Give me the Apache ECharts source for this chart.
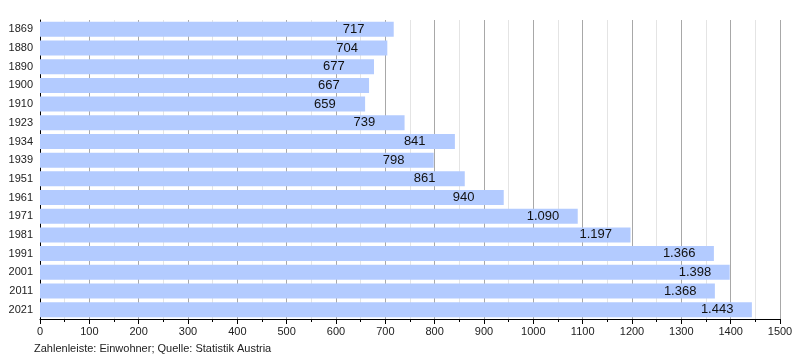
<!DOCTYPE html>
<html><head><meta charset="utf-8">
<script src="https://cdn.jsdelivr.net/npm/echarts@6/dist/echarts.min.js"></script>
<style>html,body{margin:0;padding:0;background:#fff}#c{width:800px;height:360px}</style>
</head><body><div id="c"></div>
<script>
const years = ['1869','1880','1890','1900','1910','1923','1934','1939','1951','1961','1971','1981','1991','2001','2011','2021'];
const population = [717,704,677,667,659,739,841,798,861,940,1090,1197,1366,1398,1368,1443];
const xTicks = [0,100,200,300,400,500,600,700,800,900,1000,1100,1200,1300,1400,1500];
const footnote = 'Zahlenleiste: Einwohner; Quelle: Statistik Austria';

function fmt(v){ return String(v).replace(/\B(?=(\d{3})+(?!\d))/g,'.'); }

const chart = echarts.init(document.getElementById('c'), null, {renderer:'canvas'});
chart.setOption({
  animation:false,
  textStyle:{fontFamily:'Liberation Sans, Arial, sans-serif'},
  grid:{left:40,right:20,top:20,bottom:41,containLabel:false},
  xAxis:{
    type:'value',min:xTicks[0],max:xTicks[xTicks.length-1],interval:100,
    axisLine:{show:true,onZero:false,lineStyle:{color:'#000',width:1}},
    axisTick:{show:true,length:5,lineStyle:{color:'#000'}},
    minorTick:{show:true,splitNumber:2,length:3,lineStyle:{color:'#000'}},
    splitLine:{show:true,lineStyle:{color:'#a8a8a8',width:1}},
    minorSplitLine:{show:true,lineStyle:{color:'#e4e4e4',width:1}},
    axisLabel:{color:'#222',fontSize:11,margin:7,formatter:v=>String(v)}
  },
  yAxis:{
    type:'category',data:years,inverse:true,
    axisLine:{show:true,lineStyle:{color:'#000',width:1}},
    axisTick:{show:false},
    axisLabel:{color:'#222',fontSize:11,margin:7}
  },
  series:[{
    type:'bar',data:population,barCategoryGap:'20%',
    itemStyle:{color:'#b3cbff'},
    label:{show:true,position:'insideRight',distance:51,align:'left',color:'#111',fontSize:13,
      formatter:p=>fmt(p.value)}
  }],
  graphic:[{type:'text',left:34,top:343,style:{text:footnote,fill:'#222',font:'11px Liberation Sans, Arial, sans-serif'}}]
});
</script></body></html>
